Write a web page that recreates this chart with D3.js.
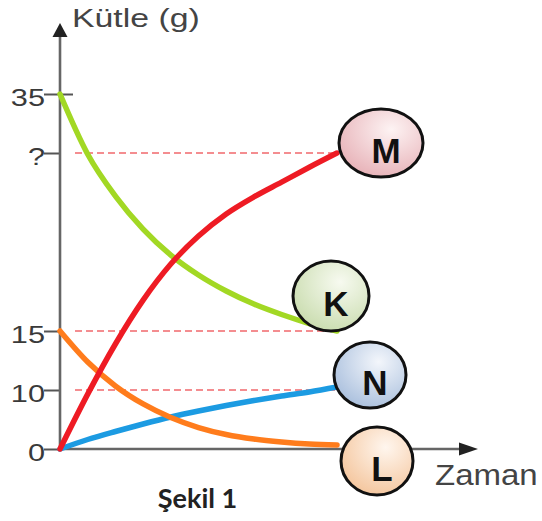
<!DOCTYPE html>
<html><head><meta charset="utf-8">
<script src="https://cdn.jsdelivr.net/npm/d3@7"></script>
<style>html,body{margin:0;padding:0;background:#fff;} svg{display:block;}</style>
</head><body>
<svg id="c" width="542" height="521"></svg>
<script>
// ---- data ----
const time    = [0, 1, 2, 3, 4, 5, 6, 7, 8, 9, 10];
const seriesK = [35, 29.9, 26.37, 23.59, 21.4, 19.72, 18.37, 17.27, 16.39, 15.63, 15];
const seriesL = [15, 12.37, 10.34, 7.63, 5.34, 3.64, 2.46, 1.69, 1.19, 0.85, 0.68];
const seriesM = [0, 9.3, 13.9, 17.6, 20.64, 23.0, 24.86, 26.3, 27.55, 28.8, 30];
const seriesN = [0, 1.61, 2.97, 4.24, 5.42, 6.44, 7.37, 8.22, 8.98, 9.66, 10.25];
const seriesNames = ["N", "L", "K", "M"];
const yTickValues = [0, 10, 15, 30, 35];
const yTickLabels = ["0", "10", "15", "?", "35"];
const guideValues = [10, 15, 30];
const yAxisTitle = "Kütle (g)";
const xAxisTitle = "Zaman";
const caption = "Şekil 1";

// ---- styles ----
const seriesData = {K: seriesK, L: seriesL, M: seriesM, N: seriesN};
const colors = {K: "#a2d824", L: "#ff7c1c", M: "#ee1b24", N: "#1c9be2"};
const fills  = {K: ["#f7faf0", "#c9dcae"], L: ["#fff6ee", "#f4c59c"], M: ["#fdf3f3", "#e7b1b7"], N: ["#f3f6fb", "#a9bfdd"]};
const badgeOffset = {M: [44, -10], K: [-6, -35], N: [33, -12], L: [40, 16]};
const badgeR = {M: [42, 34], K: [38, 35], N: [36, 33], L: [36, 34]};
const axisColor = "#666";
const textColor = "#3a3a3a";

const svg = d3.select("#c");
const x = d3.scaleLinear().domain([0, 10]).range([60, 337]);
const y = d3.scaleLinear().domain([0, 10, 15, 30, 35]).range([449, 390, 331, 153, 94]);

function stretch(sel, f) {
  sel.each(function () {
    const t = d3.select(this);
    const ax = +t.attr("x") || 0, ay = +t.attr("y") || 0;
    const tr = t.attr("transform") || "";
    t.attr("x", 0).attr("y", 0).attr("transform", tr + ` translate(${ax},${ay}) scale(${f},1)`);
  });
}

// defs
const defs = svg.append("defs");
seriesNames.forEach(n => {
  const g = defs.append("radialGradient").attr("id", "g" + n)
    .attr("cx", "62%").attr("cy", "30%").attr("r", "75%");
  g.append("stop").attr("offset", "0%").attr("stop-color", fills[n][0]);
  g.append("stop").attr("offset", "100%").attr("stop-color", fills[n][1]);
});

// guide dashed lines
svg.append("g").selectAll("line").data(guideValues).join("line")
  .attr("x1", x(0) + 15).attr("x2", x(10))
  .attr("y1", d => y(d)).attr("y2", d => y(d))
  .attr("stroke", "#f0585c").attr("stroke-width", 1.7)
  .attr("stroke-dasharray", "7,4").attr("opacity", 0.9);

// y axis ticks via d3.axisLeft
const yAxis = d3.axisLeft(y).tickValues(yTickValues)
  .tickFormat((d, i) => yTickLabels[i]).tickSize(16).tickPadding(-1);
const gy = svg.append("g").attr("transform", `translate(${x(0)},0)`).call(yAxis);
gy.select(".domain").remove();
gy.selectAll(".tick line").attr("stroke", "#555").attr("stroke-width", 2);
gy.selectAll(".tick").filter(d => d === 35).append("line")
  .attr("x1", 0).attr("x2", 13).attr("stroke", "#555").attr("stroke-width", 2);
gy.selectAll(".tick text")
  .attr("font-family", "Liberation Sans, Arial, sans-serif").attr("font-size", 24)
  .attr("fill", textColor).attr("dy", null).attr("y", 11);
stretch(gy.selectAll(".tick text"), 1.28);

// axis lines with arrows
const axG = svg.append("g");
axG.append("line").attr("x1", x(0)).attr("x2", x(0)).attr("y1", y(0) + 2).attr("y2", 34)
  .attr("stroke", axisColor).attr("stroke-width", 2.6);
axG.append("path").attr("d", d3.line()([[x(0) - 7.5, 37], [x(0), 23], [x(0) + 7.5, 37]]) + "Z")
  .attr("fill", "#222");
axG.append("line").attr("x1", x(0) - 1).attr("x2", 462).attr("y1", y(0)).attr("y2", y(0))
  .attr("stroke", axisColor).attr("stroke-width", 2.6);
axG.append("path").attr("d", d3.line()([[459, y(0) - 6.5], [478, y(0)], [459, y(0) + 6.5]]) + "Z")
  .attr("fill", "#222");

// titles
const tY = svg.append("text").attr("x", 72).attr("y", 27).text(yAxisTitle)
  .attr("font-family", "Liberation Sans, Arial, sans-serif").attr("font-size", 26)
  .attr("fill", "#444");
stretch(tY, 1.3);
const tX = svg.append("text").attr("x", 435).attr("y", 485).text(xAxisTitle)
  .attr("font-family", "Liberation Sans, Arial, sans-serif").attr("font-size", 30)
  .attr("fill", "#444");
stretch(tX, 1.1);
svg.append("text").attr("x", 197.5).attr("y", 508).attr("text-anchor", "middle").text(caption)
  .attr("font-family", "Lato, sans-serif").attr("font-weight", "bold").attr("font-size", 27)
  .attr("fill", "#222");

// curves
const line = d3.line().x((d, i) => x(time[i])).y(d => y(d)).curve(d3.curveMonotoneX);
svg.append("g").selectAll("path").data(seriesNames).join("path")
  .attr("d", n => line(seriesData[n]))
  .attr("fill", "none").attr("stroke", n => colors[n])
  .attr("stroke-width", 5.5).attr("stroke-linecap", "round");

// badges
const badges = svg.append("g").selectAll("g").data(seriesNames).join("g")
  .attr("transform", n => {
    const arr = seriesData[n];
    return `translate(${x(time[time.length - 1]) + badgeOffset[n][0]},${y(arr[arr.length - 1]) + badgeOffset[n][1]})`;
  });
badges.append("ellipse").attr("rx", n => badgeR[n][0]).attr("ry", n => badgeR[n][1])
  .attr("fill", n => `url(#g${n})`).attr("stroke", "#111").attr("stroke-width", 3);
badges.append("text").text(n => n)
  .attr("x", 5).attr("y", 8).attr("dy", "0.35em").attr("text-anchor", "middle")
  .attr("font-family", "Liberation Sans, Arial, sans-serif").attr("font-weight", "bold")
  .attr("font-size", 35).attr("fill", "#111");
</script>
</body></html>
